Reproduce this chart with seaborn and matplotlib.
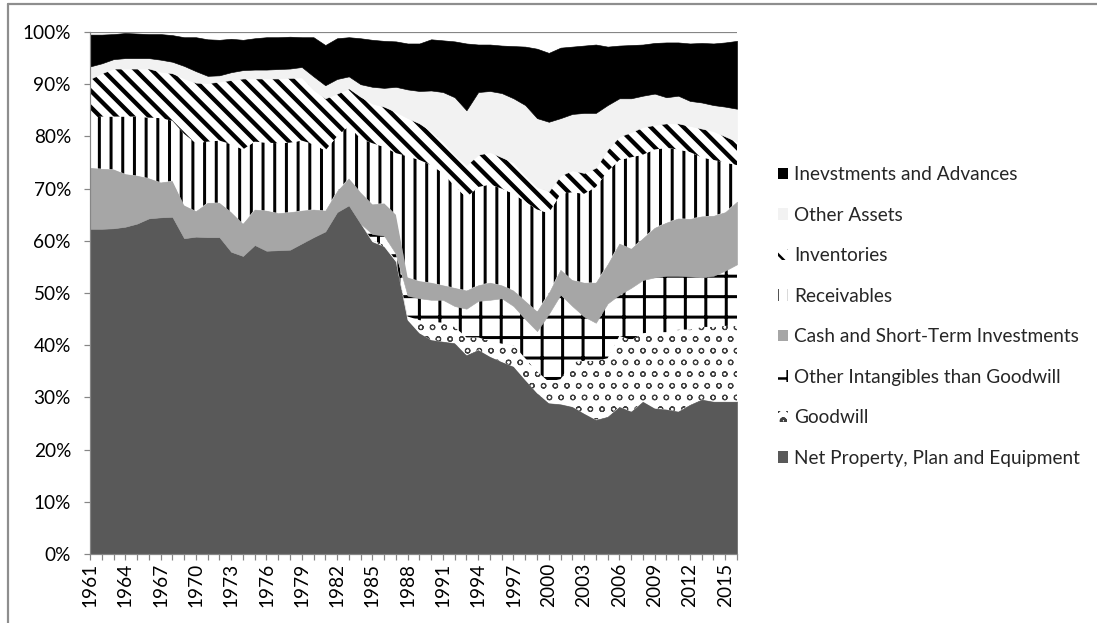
import numpy as np
import matplotlib
matplotlib.use("Agg")
import matplotlib.pyplot as plt
import seaborn as sns
from matplotlib.patches import Patch
from matplotlib.lines import Line2D
from matplotlib.ticker import FixedLocator, PercentFormatter

# ---------------- data (share of total assets, %) ----------------
years = list(range(1961, 2017))

ppe = [62.3, 62.3, 62.4, 62.7, 63.3, 64.3, 64.5, 64.6, 60.5, 60.8,
       60.7, 60.7, 57.9, 57.1, 59.2, 58.1, 58.2, 58.3, 59.5, 60.7,
       61.8, 65.5, 66.8, 63.3, 59.8, 58.9, 56.0, 44.8, 42.3, 41.0,
       40.7, 40.4, 38.1, 39.1, 37.8, 36.8, 35.9, 33.3, 30.8, 28.9,
       28.7, 28.2, 26.9, 25.7, 26.3, 28.2, 27.3, 29.2, 27.9, 27.7,
       27.3, 28.6, 29.6, 29.2, 29.2, 29.2]

goodwill = [0, 0, 0, 0, 0, 0, 0, 0, 0, 0,
            0, 0, 0, 0, 0, 0, 0, 0, 0, 0,
            0, 0, 0, 0, 0.3, 0.3, 0.3, 0.7, 2.5, 3.5,
            3.6, 3.1, 3.4, 2.4, 3.0, 3.5, 4.1, 4.2, 4.2, 4.1,
            4.8, 8.6, 10.1, 11.3, 11.2, 13.6, 13.7, 13.1, 14.6, 14.8,
            15.7, 14.4, 13.9, 14.3, 14.5, 14.5]

intangibles = [0, 0, 0, 0, 0, 0, 0, 0, 0, 0,
               0, 0, 0, 0, 0, 0, 0, 0, 0, 0,
               0, 0, 0, 0, 1.2, 1.8, 1.2, 4.0, 4.2, 4.2,
               4.4, 4.0, 5.5, 7.0, 7.9, 8.7, 7.5, 7.5, 7.7, 13.0,
               16.2, 10.7, 8.5, 7.3, 10.5, 7.9, 10.0, 10.2, 10.5, 10.8,
               10.3, 10.2, 9.5, 9.8, 10.6, 11.8]

cash = [11.7, 11.5, 11.3, 10.1, 9.2, 7.7, 6.7, 6.9, 6.3, 4.9,
        6.6, 6.6, 7.6, 6.2, 6.8, 7.7, 7.1, 7.2, 6.3, 5.3,
        4.0, 4.0, 5.2, 6.0, 5.7, 6.2, 7.5, 3.5, 3.3, 3.3,
        2.8, 3.5, 3.5, 3.0, 3.3, 2.5, 3.0, 3.5, 3.8, 4.0,
        4.8, 5.0, 6.5, 7.7, 7.5, 9.8, 7.5, 8.0, 9.5, 10.2,
        11.0, 11.0, 11.7, 11.5, 11.2, 12.0]

receivables = [9.5, 10.0, 10.1, 11.0, 11.3, 11.6, 12.3, 11.5, 13.7, 13.0,
               11.7, 11.9, 13.0, 14.2, 13.0, 13.0, 13.4, 13.3, 13.4, 12.5,
               11.5, 10.5, 10.0, 10.3, 11.7, 10.8, 11.8, 23.2, 23.2, 22.5,
               21.5, 19.5, 17.8, 18.8, 18.8, 18.5, 18.5, 19.0, 19.5, 15.3,
               14.5, 16.8, 17.0, 18.3, 17.8, 16.0, 17.5, 16.0, 15.0, 14.3,
               13.2, 12.8, 11.3, 10.7, 9.5, 7.0]

inventories = [7.5, 8.3, 9.2, 9.2, 9.2, 9.4, 8.9, 9.1, 10.6, 11.6,
               11.2, 11.3, 12.3, 13.6, 12.1, 12.3, 12.4, 12.4, 12.1, 10.4,
               10.0, 8.2, 7.2, 8.0, 7.6, 7.7, 7.9, 7.3, 7.0, 6.5,
               6.0, 6.0, 6.2, 6.2, 6.2, 6.0, 6.0, 5.0, 4.3, 4.2,
               3.5, 4.2, 4.0, 3.7, 4.2, 4.5, 4.8, 5.3, 4.7, 4.7,
               5.0, 5.0, 5.5, 5.5, 5.0, 4.5]

other_assets = [2.4, 1.9, 1.8, 2.0, 2.0, 2.0, 2.3, 2.2, 2.4, 2.2,
                1.4, 1.2, 1.5, 1.6, 1.7, 1.7, 1.8, 1.8, 2.0, 2.6,
                2.5, 2.8, 2.3, 2.4, 3.2, 3.6, 4.8, 5.5, 6.2, 7.8,
                9.5, 11.0, 10.5, 12.0, 11.7, 12.3, 12.3, 13.5, 13.2, 13.3,
                11.0, 10.8, 11.5, 10.5, 8.5, 7.3, 6.5, 6.0, 6.0, 5.0,
                5.3, 4.8, 5.0, 5.0, 5.7, 6.3]

investments = [6.1, 5.5, 4.8, 4.8, 4.7, 4.6, 4.9, 5.1, 5.5, 6.5,
               7.0, 6.8, 6.4, 5.8, 6.0, 6.2, 6.1, 6.1, 5.7, 7.5,
               7.7, 7.8, 7.5, 8.8, 9.0, 9.0, 8.7, 8.8, 9.1, 9.8,
               9.9, 10.7, 12.8, 9.1, 8.9, 9.1, 10.0, 11.2, 13.3, 13.2,
               13.5, 12.9, 12.9, 13.1, 11.2, 10.1, 10.2, 9.8, 9.7, 10.5,
               10.2, 11.0, 11.4, 11.8, 12.3, 13.0]

labels = ["Net Property, Plan and Equipment", "Goodwill",
          "Other Intangibles than Goodwill", "Cash and Short-Term Investments",
          "Receivables", "Inventories", "Other Assets",
          "Inevstments and Advances"]
year_labels = [str(y) for y in range(1961, 2017, 3)]

# ---------------- geometry helpers ----------------
DPI = 491            # hatch cell = DPI px, chosen so hatch spacings match
W, H = 1097, 623
PT = 72.0 / DPI


def px(v):
    return v * PT


sns.set_theme(style="white")
plt.rcParams['font.family'] = ['Lato', 'DejaVu Sans']

fig = plt.figure(figsize=(W / DPI, H / DPI), dpi=DPI)
fig.patch.set_facecolor("white")
ax = fig.add_axes([90 / W, (H - 554) / H, (737 - 90) / W, (554 - 32) / H])

styles = [
    dict(fc='#595959', ec='#595959', hatch=None, hlw=1.0),
    dict(fc='white', ec='#404040', hatch='o' * 7, hlw=1.1),
    dict(fc='white', ec='black', hatch='+' * 4, hlw=3.0),
    dict(fc='#a6a6a6', ec='#a6a6a6', hatch=None, hlw=1.0),
    dict(fc='white', ec='black', hatch='|' * 7, hlw=3.0),
    dict(fc='white', ec='black', hatch='\\' * 10, hlw=4.3),
    dict(fc='#f2f2f2', ec='#f2f2f2', hatch=None, hlw=1.0),
    dict(fc='black', ec='black', hatch=None, hlw=1.0),
]

series = [ppe, goodwill, intangibles, cash, receivables, inventories,
          other_assets, investments]

x = np.array(years)
base = np.zeros(len(years))
handles = []
for vals, lab, st in zip(series, labels, styles):
    top = base + np.asarray(vals, dtype=float)
    with plt.rc_context({'hatch.linewidth': px(st['hlw'])}):
        coll = ax.fill_between(x, base, top, facecolor=st['fc'],
                               edgecolor=st['ec'],
                               linewidth=0 if st['hatch'] else px(0.6),
                               hatch=st['hatch'], zorder=2)
        if hasattr(coll, "set_hatch_linewidth"):
            coll.set_hatch_linewidth(px(st['hlw']))
        hp = Patch(facecolor=st['fc'], edgecolor=st['ec'], hatch=st['hatch'],
                   linewidth=0, label=lab)
        if hasattr(hp, "set_hatch_linewidth"):
            hp.set_hatch_linewidth(px(st['hlw']))
    handles.append(hp)
    base = top

# ---------------- axes styling ----------------
axis_col = '#868686'
ax.set_xlim(1961, 2016)
ax.set_ylim(0, 100)
ax.set_facecolor('white')
for s in ['top', 'right']:
    ax.spines[s].set_visible(False)
for s in ['left', 'bottom']:
    ax.spines[s].set_color(axis_col)
    ax.spines[s].set_linewidth(px(1.2))
    ax.spines[s].set_zorder(3)

ax.yaxis.set_major_locator(FixedLocator(list(range(0, 101, 10))))
ax.yaxis.set_major_formatter(PercentFormatter(xmax=100, decimals=0))
ax.grid(axis='y', color=axis_col, linewidth=px(1.2), zorder=0)
ax.set_axisbelow(True)

ax.set_xticks(list(range(1961, 2017, 3)))
ax.set_xticklabels(year_labels, rotation=90)
ax.set_xticks(years, minor=True)

tick_font = px(19.0)
ax.tick_params(axis='y', which='major', direction='out', length=px(6),
               width=px(1.2), color=axis_col, labelsize=tick_font,
               pad=px(13), labelcolor='black', left=True)
ax.tick_params(axis='x', which='both', direction='out', length=px(6),
               width=px(1.2), color=axis_col, bottom=True)
ax.tick_params(axis='x', which='major', labelsize=tick_font, pad=px(3),
               labelcolor='black')

# ---------------- legend ----------------
with plt.rc_context({'hatch.linewidth': px(2.5)}):
    leg = fig.legend(handles[::-1], labels[::-1], loc='upper left',
                     bbox_to_anchor=(778 / W, (H - 166) / H),
                     frameon=False, fontsize=px(19.0),
                     handlelength=0.55, handleheight=0.55,
                     handletextpad=0.3, labelspacing=1.24,
                     borderpad=0, borderaxespad=0)

# ---------------- outer frame ----------------
frame_col = '#8e8e8e'
fig.add_artist(Line2D([7.5 / W, 7.5 / W], [0, (H - 3.5) / H],
                      transform=fig.transFigure, color=frame_col,
                      linewidth=px(2.2)))
fig.add_artist(Line2D([7.5 / W, 1], [(H - 3.5) / H, (H - 3.5) / H],
                      transform=fig.transFigure, color=frame_col,
                      linewidth=px(2.2)))

fig.savefig("out.png", dpi=DPI, facecolor="white")
